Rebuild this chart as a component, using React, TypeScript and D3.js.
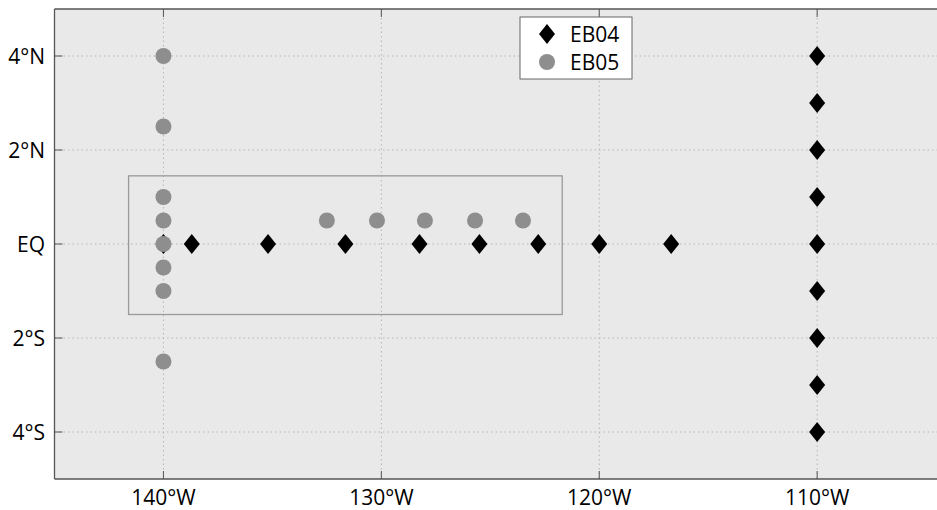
import React from "react";
import * as d3 from "d3";

const lonTicks = [-140, -130, -120, -110];
const lonTickLabels = ["140°W", "130°W", "120°W", "110°W"];
const latTicks = [4, 2, 0, -2, -4];
const latTickLabels = ["4°N", "2°N", "EQ", "2°S", "4°S"];

const eb04Lon = [-140, -138.7, -135.2, -131.65, -128.25, -125.5, -122.8, -120, -116.7, -110, -110, -110, -110, -110, -110, -110, -110, -110];
const eb04Lat = [0, 0, 0, 0, 0, 0, 0, 0, 0, 4, 3, 2, 1, 0, -1, -2, -3, -4];

const eb05Lon = [-140, -140, -140, -140, -140, -140, -140, -140, -132.5, -130.2, -128.0, -125.7, -123.5];
const eb05Lat = [4, 2.5, 1, 0.5, 0, -0.5, -1, -2.5, 0.5, 0.5, 0.5, 0.5, 0.5];

const boxLon = [-141.6, -121.7];
const boxLat = [1.45, -1.5];

const legendLabels = ["EB04", "EB05"];

export default function App() {
  const W = 937, H = 510;
  const left = 54.5, top = 9, right = 937, bottom = 479;
  const x = d3.scaleLinear().domain([-145, -104.5]).range([left, right]);
  const ys = d3.scaleLinear().domain([5, -5]).range([top, bottom]);
  const font = "'Open Sans', 'DejaVu Sans', sans-serif";
  const diamond = (cx: number, cy: number) => `M${cx},${cy - 10}L${cx + 8},${cy}L${cx},${cy + 10}L${cx - 8},${cy}Z`;
  return (
    <svg width={W} height={H} style={{ position: "absolute", left: 0, top: 0 }}>
      <rect x={0} y={0} width={W} height={H} fill="#fff" />
      <rect x={left} y={top} width={right - left} height={bottom - top} fill="#e9e9e9" />
      {lonTicks.map((t) => (
        <line key={"gx" + t} x1={x(t)} x2={x(t)} y1={top} y2={bottom} stroke="#b5b5b5" strokeDasharray="1.5,3" strokeWidth={1} />
      ))}
      {latTicks.map((t) => (
        <line key={"gy" + t} x1={left} x2={right} y1={ys(t)} y2={ys(t)} stroke="#b5b5b5" strokeDasharray="1.5,3" strokeWidth={1} />
      ))}
      <rect x={x(boxLon[0])} y={ys(boxLat[0])} width={x(boxLon[1]) - x(boxLon[0])} height={ys(boxLat[1]) - ys(boxLat[0])} fill="none" stroke="#9a9a9a" strokeWidth={1.3} />
      {eb04Lon.map((lo, i) => (
        <path key={"d" + i} d={diamond(x(lo), ys(eb04Lat[i]))} fill="#000" />
      ))}
      {eb05Lon.map((lo, i) => (
        <circle key={"c" + i} cx={x(lo)} cy={ys(eb05Lat[i])} r={8} fill="#8e8e8e" />
      ))}
      <line x1={left} x2={right} y1={top} y2={top} stroke="#555" strokeWidth={1.3} />
      <line x1={left} x2={right} y1={bottom} y2={bottom} stroke="#555" strokeWidth={1.3} />
      <line x1={left} x2={left} y1={top} y2={bottom} stroke="#555" strokeWidth={1.3} />
      {lonTicks.map((t) => (
        <g key={"tx" + t}>
          <line x1={x(t)} x2={x(t)} y1={bottom} y2={bottom - 8} stroke="#555" strokeWidth={1} />
          <line x1={x(t)} x2={x(t)} y1={top} y2={top + 8} stroke="#555" strokeWidth={1} />
        </g>
      ))}
      {latTicks.map((t) => (
        <line key={"ty" + t} x1={left} x2={left + 8} y1={ys(t)} y2={ys(t)} stroke="#555" strokeWidth={1} />
      ))}
      {lonTicks.map((t, i) => (
        <text key={"lx" + t} x={x(t)} y={505} textAnchor="middle" fontFamily={font} fontSize={21} fill="#000">{lonTickLabels[i]}</text>
      ))}
      {latTicks.map((t, i) => (
        <text key={"ly" + t} x={45} y={ys(t)} dy="0.36em" textAnchor="end" fontFamily={font} fontSize={21} fill="#000">{latTickLabels[i]}</text>
      ))}
      <rect x={520} y={17} width={112} height={62} fill="#fff" stroke="#666" strokeWidth={1} />
      <path d={diamond(547, 34)} fill="#000" />
      <circle cx={547} cy={62} r={8} fill="#8e8e8e" />
      <text x={570} y={34} dy="0.36em" fontFamily={font} fontSize={21} fill="#000">{legendLabels[0]}</text>
      <text x={570} y={62} dy="0.36em" fontFamily={font} fontSize={21} fill="#000">{legendLabels[1]}</text>
    </svg>
  );
}
